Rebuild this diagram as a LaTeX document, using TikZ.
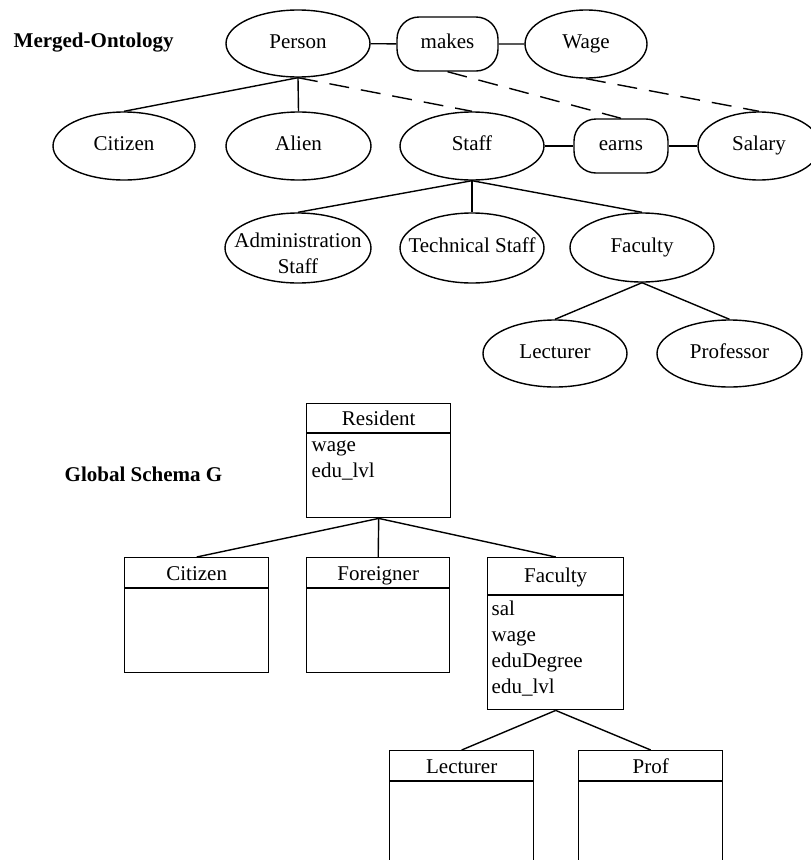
\documentclass[tikz,border=0pt]{standalone}
\usepackage{fontspec}
\setmainfont{Liberation Serif}
\usetikzlibrary{shapes.geometric}

\begin{document}
\begin{tikzpicture}[x=1pt, y=-1pt, line width=1.4pt,
  every node/.style={font=\fontsize{21}{26}\selectfont},
  % ontology concept (ellipse); the label is a zero-width box so it never widens the shape
  ent/.style 2 args={draw, ellipse, inner sep=0pt, minimum width=#1, minimum height=#2,
                     text height=14pt, text depth=4.5pt},
  % ontology relation (rounded box)
  rel/.style 2 args={draw, rectangle, rounded corners=22pt, inner sep=0pt,
                     minimum width=#1, minimum height=#2, text height=14pt, text depth=4.5pt},
  % schema class box
  cls/.style 2 args={draw, rectangle, inner sep=0pt, anchor=north west,
                     minimum width=#1, minimum height=#2},
  hdr/.style={anchor=base, inner sep=0pt},
  attr/.style={anchor=base west, inner sep=0pt},
  dlink/.style={dash pattern=on 20pt off 12pt},
  title/.style={font=\fontsize{21}{26}\selectfont\bfseries, anchor=base west, inner sep=0pt}]

\useasboundingbox (0,0) rectangle (811,860);
\clip (0,0) rectangle (811,860);

% ---------------- merged ontology ----------------
\node[title] (t1) at (13,47.5) {Merged-Ontology};

\node[ent={144pt}{67pt}] (person) at (298,43.5) {\makebox[0pt]{Person}};
\node[rel={101pt}{54pt}] (makes) at (447.5,44) {\makebox[0pt]{makes}};
\node[ent={122pt}{68pt}] (wage) at (586,44) {\makebox[0pt]{Wage}};

\node[ent={142pt}{68pt}] (citizen) at (124,146) {\makebox[0pt]{Citizen}};
\node[ent={145pt}{68pt}] (alien) at (298.5,146) {\makebox[0pt]{Alien}};
\node[ent={144pt}{68pt}] (staff) at (472,146) {\makebox[0pt]{Staff}};
\node[rel={94pt}{54pt}] (earns) at (621,146) {\makebox[0pt]{earns}};
\node[ent={122pt}{68pt}] (salary) at (759,146) {\makebox[0pt]{Salary}};

\node[ent={146pt}{70pt}] (admin) at (298,248) {\makebox[0pt]{\raisebox{5pt}{%
  \begin{tabular}[t]{@{}c@{}}Administration\\Staff\end{tabular}}}};
\node[ent={144pt}{70pt}] (tech) at (472,248) {\makebox[0pt]{Technical Staff}};
\node[ent={144pt}{69pt}] (faculty) at (642,247.5) {\makebox[0pt]{Faculty}};

\node[ent={144pt}{67pt}] (lecturer) at (555,353.5) {\makebox[0pt]{Lecturer}};
\node[ent={145pt}{67pt}] (professor) at (729.5,353.5) {\makebox[0pt]{Professor}};

% relation links
\draw (person) -- (makes) -- (wage);
\draw (staff) -- (earns) -- (salary);

% hierarchy
\draw (person.south) -- (citizen.north);
\draw (person.south) -- (alien.north);
\draw (staff.south) -- (admin.north);
\draw (staff.south) -- (tech.north);
\draw (staff.south) -- (faculty.north);
\draw (faculty.south) -- (lecturer.north);
\draw (faculty.south) -- (professor.north);

% correspondences
\draw[dlink] (person.south) -- (staff.north);
\draw[dlink] (makes.south) -- (earns.north);
\draw[dlink] (wage.south) -- (salary.north);

% ---------------- global schema ----------------
\node[title] (t2) at (64,481.5) {Global Schema G};

\node[cls={144pt}{114pt}] (resident) at (306,403) {};
\draw ([yshift=-30pt]resident.north west) -- ([yshift=-30pt]resident.north east);
\node[hdr] (residentH) at ([yshift=-22pt]resident.north) {Resident};
\node[attr] (residentA1) at (311,451) {wage};
\node[attr] (residentA2) at (311,477) {edu\_lvl};

\node[cls={144pt}{115pt}] (citizenB) at (124,557) {};
\draw ([yshift=-31pt]citizenB.north west) -- ([yshift=-31pt]citizenB.north east);
\node[hdr] (citizenH) at ([yshift=-23pt]citizenB.north) {Citizen};

\node[cls={143pt}{115pt}] (foreigner) at (306,557) {};
\draw ([yshift=-31pt]foreigner.north west) -- ([yshift=-31pt]foreigner.north east);
\node[hdr] (foreignerH) at ([yshift=-23pt]foreigner.north) {Foreigner};

\node[cls={136pt}{152pt}] (facultyB) at (487,557) {};
\draw ([yshift=-38pt]facultyB.north west) -- ([yshift=-38pt]facultyB.north east);
\node[hdr] (facultyH) at ([yshift=-25pt]facultyB.north) {Faculty};
\node[attr] (facultyA1) at (491,615) {sal};
\node[attr] (facultyA2) at (491,641) {wage};
\node[attr] (facultyA3) at (491,667) {eduDegree};
\node[attr] (facultyA4) at (491,693) {edu\_lvl};

\node[cls={144pt}{140pt}] (lecturerB) at (389,750) {};
\draw ([yshift=-31pt]lecturerB.north west) -- ([yshift=-31pt]lecturerB.north east);
\node[hdr] (lecturerH) at ([yshift=-23pt]lecturerB.north) {Lecturer};

\node[cls={144pt}{140pt}] (prof) at (578,750) {};
\draw ([yshift=-31pt]prof.north west) -- ([yshift=-31pt]prof.north east);
\node[hdr] (profH) at ([yshift=-23pt]prof.north) {Prof};

\draw (resident.south) -- (citizenB.north);
\draw (resident.south) -- (foreigner.north);
\draw (resident.south) -- (facultyB.north);
\draw (facultyB.south) -- (lecturerB.north);
\draw (facultyB.south) -- (prof.north);

\end{tikzpicture}
\end{document}
